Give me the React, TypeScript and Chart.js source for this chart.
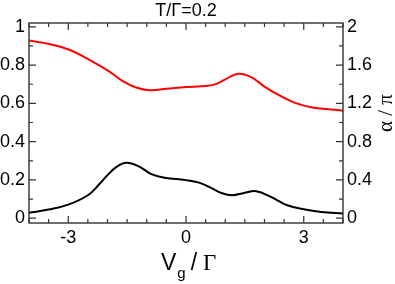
import React, { useEffect, useRef } from "react";
import { Chart, registerables } from "chart.js";

Chart.register(...registerables);

const titleText = "T/Γ=0.2";
const xTicks = [-3, 0, 3];
const leftTicks = [0, 0.2, 0.4, 0.6, 0.8, 1];
const rightTicks = [0, 0.4, 0.8, 1.2, 1.6, 2];

const blackX = [-4, -3.5, -3, -2.5, -2.2, -2.0, -1.77, -1.52, -1.19, -0.9, -0.55, 0, 0.33, 0.6, 0.9, 1.18, 1.48, 1.79, 2.17, 2.58, 3.0, 3.45, 4];
const blackY = [0.028, 0.045, 0.071, 0.12, 0.18, 0.225, 0.268, 0.29, 0.27, 0.232, 0.212, 0.199, 0.186, 0.162, 0.132, 0.12, 0.132, 0.141, 0.111, 0.068, 0.047, 0.033, 0.024];

const redX = [-4, -3.48, -2.97, -2.46, -1.95, -1.62, -1.27, -0.93, -0.5, 0, 0.4, 0.72, 0.98, 1.31, 1.66, 2.0, 2.43, 2.76, 3.19, 4];
const redY = [1.856, 1.82, 1.76, 1.654, 1.532, 1.436, 1.366, 1.338, 1.352, 1.37, 1.38, 1.396, 1.446, 1.508, 1.474, 1.376, 1.272, 1.208, 1.16, 1.124];

const SANS = "'Liberation Sans', Arial, sans-serif";
const SERIF = "'Liberation Serif', 'Times New Roman', serif";

const framePlugin = {
  id: "framePlugin",
  afterDraw(chart: any) {
    const { ctx, chartArea, scales } = chart;
    const { left, right, top, bottom } = chartArea;
    const xs = scales.x, ys = scales.y, y2 = scales.y2;
    ctx.save();
    ctx.strokeStyle = "#333";
    ctx.lineWidth = 1.4;
    ctx.strokeRect(left, top, right - left, bottom - top);
    ctx.lineWidth = 1.2;
    ctx.beginPath();
    for (let i = -8; i <= 8; i++) {
      const v = i / 2;
      const px = xs.getPixelForValue(v);
      const len = Math.abs(v % 3) < 1e-9 ? 7 : 4;
      ctx.moveTo(px, bottom); ctx.lineTo(px, bottom - len);
      ctx.moveTo(px, top); ctx.lineTo(px, top + len);
    }
    for (let i = 0; i <= 10; i++) {
      const py = ys.getPixelForValue(i / 10);
      const len = i % 2 === 0 ? 7 : 4;
      ctx.moveTo(left, py); ctx.lineTo(left + len, py);
    }
    for (let i = 0; i <= 10; i++) {
      const py = y2.getPixelForValue(i / 5);
      const len = i % 2 === 0 ? 7 : 4;
      ctx.moveTo(right, py); ctx.lineTo(right - len, py);
    }
    ctx.stroke();

    ctx.fillStyle = "#000";
    ctx.font = `18px ${SANS}`;
    ctx.textAlign = "center";
    ctx.textBaseline = "alphabetic";
    ctx.fillText(titleText, (left + right) / 2, 16);

    const base = 270;
    ctx.textAlign = "left";
    ctx.font = `23px ${SANS}`;
    let x = 161;
    ctx.fillText("V", x, base);
    x += ctx.measureText("V").width;
    ctx.font = `15px ${SANS}`;
    ctx.fillText("g", x + 1, base + 8);
    x += ctx.measureText("g").width + 6;
    ctx.font = `23px ${SANS}`;
    ctx.fillText("/", x, base);
    x += ctx.measureText("/").width + 6;
    ctx.font = `23px ${SERIF}`;
    ctx.fillText("Γ", x, base);

    ctx.save();
    ctx.translate(392, 113);
    ctx.rotate(-Math.PI / 2);
    ctx.font = `21px ${SERIF}`;
    ctx.textAlign = "center";
    ctx.textBaseline = "alphabetic";
    ctx.fillText("α / π", 0, 0);
    ctx.restore();
    ctx.restore();
  },
};

export default function App() {
  const ref = useRef<HTMLCanvasElement | null>(null);
  useEffect(() => {
    if (!ref.current) return;
    const chart = new Chart(ref.current, {
      type: "scatter",
      data: {
        datasets: [
          {
            label: "G",
            data: blackX.map((x, i) => ({ x, y: blackY[i] })),
            showLine: true,
            borderColor: "#000",
            borderWidth: 2,
            pointRadius: 0,
            tension: 0.4,
            yAxisID: "y",
          },
          {
            label: "alpha",
            data: redX.map((x, i) => ({ x, y: redY[i] })),
            showLine: true,
            borderColor: "#f00",
            borderWidth: 2,
            pointRadius: 0,
            tension: 0.4,
            yAxisID: "y2",
          },
        ],
      },
      options: {
        responsive: false,
        animation: false,
        layout: { padding: { top: 23, left: 0, right: 0, bottom: 0 } },
        plugins: { legend: { display: false }, title: { display: false }, tooltip: { enabled: false } },
        scales: {
          x: {
            type: "linear",
            min: -4,
            max: 4,
            grid: { display: false, drawTicks: false },
            border: { display: false },
            ticks: { color: "#000", font: { family: SANS, size: 18 }, padding: 4, maxRotation: 0 },
            afterBuildTicks: (s: any) => { s.ticks = xTicks.map((v) => ({ value: v })); },
            afterFit: (s: any) => { s.height = 61; },
          },
          y: {
            type: "linear",
            position: "left",
            min: -0.025,
            max: 1.02,
            grid: { display: false, drawTicks: false },
            border: { display: false },
            ticks: { color: "#000", font: { family: SANS, size: 18 }, padding: 4, callback: (v: any) => String(v) },
            afterBuildTicks: (s: any) => { s.ticks = leftTicks.map((v) => ({ value: v })); },
            afterFit: (s: any) => { s.width = 29; },
          },
          y2: {
            type: "linear",
            position: "right",
            min: -0.05,
            max: 2.04,
            grid: { display: false, drawTicks: false },
            border: { display: false },
            ticks: { color: "#000", font: { family: SANS, size: 18 }, padding: 4, callback: (v: any) => String(v) },
            afterBuildTicks: (s: any) => { s.ticks = rightTicks.map((v) => ({ value: v })); },
            afterFit: (s: any) => { s.width = 52; },
          },
        },
      } as any,
      plugins: [framePlugin],
    });
    return () => chart.destroy();
  }, []);
  return (
    <div style={{ position: "fixed", left: 0, top: 0, width: 395, height: 284, background: "#fff" }}>
      <canvas ref={ref} width={395} height={284} />
    </div>
  );
}
